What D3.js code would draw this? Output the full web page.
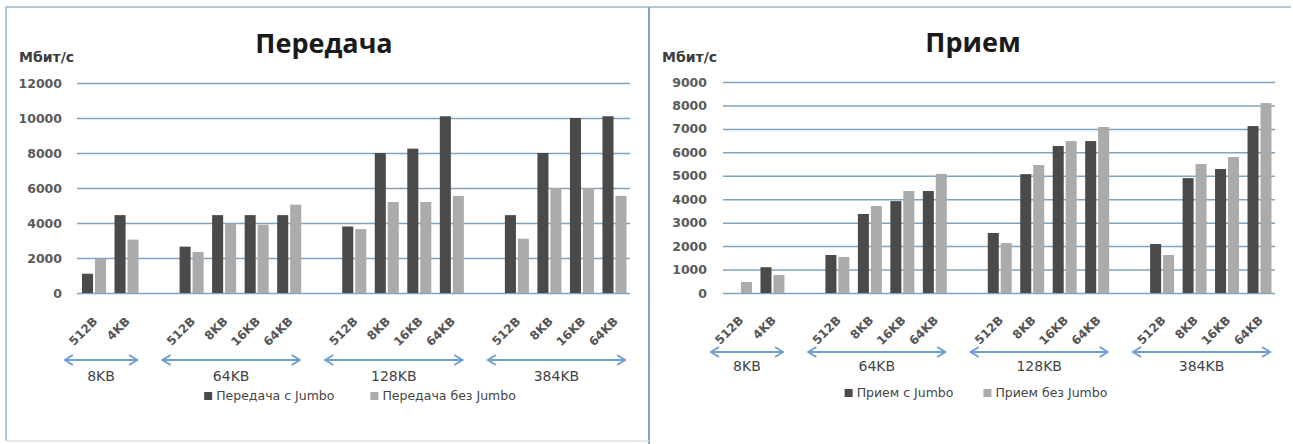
<!DOCTYPE html>
<html>
<head>
<meta charset="utf-8">
<script src="https://cdn.jsdelivr.net/npm/d3@7"></script>
<style>
body{margin:0;background:#fff}
svg{display:block}
</style>
</head>
<body>
<svg id="chart" width="1293" height="444"></svg>
<script>
// группы размеров окна и категории (размер пакета)
var groupNames = ["8KB", "64KB", "128KB", "384KB"];
var categories = ["512B", "4KB",
                  "512B", "8KB", "16KB", "64KB",
                  "512B", "8KB", "16KB", "64KB",
                  "512B", "8KB", "16KB", "64KB"];
var categoryGroup = ["8KB", "8KB",
                     "64KB", "64KB", "64KB", "64KB",
                     "128KB", "128KB", "128KB", "128KB",
                     "384KB", "384KB", "384KB", "384KB"];

// передача, Мбит/с
var txJumbo   = [1100, 4450, 2650, 4450, 4450, 4450, 3800, 8000, 8250, 10100, 4450, 8000, 10000, 10100];
var txNoJumbo = [1950, 3050, 2350, 3950, 3900, 5050, 3650, 5200, 5200, 5550, 3100, 6000, 6000, 5550];
// прием, Мбит/с
var rxJumbo   = [0, 1100, 1620, 3370, 3920, 4350, 2560, 5070, 6270, 6480, 2090, 4900, 5290, 7120];
var rxNoJumbo = [470, 770, 1540, 3710, 4350, 5080, 2130, 5460, 6480, 7080, 1620, 5500, 5800, 8100];

var txTicks = [0, 2000, 4000, 6000, 8000, 10000, 12000];
var rxTicks = [0, 1000, 2000, 3000, 4000, 5000, 6000, 7000, 8000, 9000];

var txLegend = ["Передача с Jumbo", "Передача без Jumbo"];
var rxLegend = ["Прием с Jumbo", "Прием без Jumbo"];

var colDark = '#4a4a4a';
var colLight = '#ababab';
var colGrid = '#80a4c0';
var colArrow = '#6f9fd2';

var svg = d3.select('#chart');

// рамки панелей
svg.append('line').attr('x1', 6).attr('x2', 1291).attr('y1', 7).attr('y2', 7)
    .attr('stroke', '#9cb6ca').attr('stroke-width', 1.5);
svg.append('line').attr('x1', 6).attr('x2', 6).attr('y1', 7).attr('y2', 441)
    .attr('stroke', '#9cb6ca').attr('stroke-width', 1.5);
svg.append('line').attr('x1', 649).attr('x2', 649).attr('y1', 7).attr('y2', 444)
    .attr('stroke', '#7fa6c4').attr('stroke-width', 2);
svg.append('line').attr('x1', 6).attr('x2', 649).attr('y1', 441).attr('y2', 441)
    .attr('stroke', '#e2e2e2').attr('stroke-width', 1.5);

// слоты по оси X: категории + пустой слот между группами
var slots = [];
groupNames.forEach(function(g, gi){
    if(gi > 0) slots.push('gap' + gi);
    categories.forEach(function(c, i){
        if(categoryGroup[i] == g) slots.push('c' + i);
    });
});

function drawChart(cfg){
    var g = svg.append('g');

    var x = d3.scaleBand().domain(slots).range([cfg.left, cfg.right]).padding(0);
    var xSub = d3.scaleBand().domain(['s1', 's2']).range([5, x.bandwidth() - 3.5]).paddingInner(0.15);
    var y = d3.scaleLinear().domain([0, cfg.max]).range([cfg.bottom, cfg.top]);

    // сетка и подписи оси Y
    var yAxis = d3.axisLeft(y).tickValues(cfg.ticks).tickFormat(d3.format('d'))
        .tickSize(-(cfg.right - cfg.left)).tickPadding(cfg.tickPad);
    g.append('g')
        .attr('transform', 'translate(' + cfg.left + ',0)')
        .call(yAxis)
        .call(function(a){
            a.select('.domain').remove();
            a.selectAll('line').attr('stroke', colGrid).attr('stroke-width', 1.5);
            a.selectAll('text')
                .attr('font-family', 'DejaVu Sans')
                .attr('font-weight', 'bold')
                .attr('font-size', 12.5)
                .attr('fill', '#5a5a5a');
        });

    // столбцы
    var idx = d3.range(categories.length);
    g.selectAll('rect.s1').data(idx).enter().append('rect')
        .attr('class', 's1')
        .attr('x', function(i){ return x('c' + i) + xSub('s1'); })
        .attr('width', xSub.bandwidth())
        .attr('y', function(i){ return y(cfg.s1[i]); })
        .attr('height', function(i){ return y(0) - y(cfg.s1[i]); })
        .attr('fill', colDark);
    g.selectAll('rect.s2').data(idx).enter().append('rect')
        .attr('class', 's2')
        .attr('x', function(i){ return x('c' + i) + xSub('s2'); })
        .attr('width', xSub.bandwidth())
        .attr('y', function(i){ return y(cfg.s2[i]); })
        .attr('height', function(i){ return y(0) - y(cfg.s2[i]); })
        .attr('fill', colLight);

    // подписи категорий под углом
    g.selectAll('text.cat').data(idx).enter().append('text')
        .attr('class', 'cat')
        .attr('transform', function(i){
            return 'translate(' + (x('c' + i) + x.bandwidth() / 2 + 5) + ',' + (cfg.bottom + cfg.labelDy) + ') rotate(-45)';
        })
        .attr('text-anchor', 'end')
        .attr('font-family', 'DejaVu Sans')
        .attr('font-weight', 'bold')
        .attr('font-size', 12)
        .attr('fill', '#555')
        .text(function(i){ return categories[i]; });

    // стрелки групп
    groupNames.forEach(function(gn){
        var members = idx.filter(function(i){ return categoryGroup[i] == gn; });
        var x0 = x('c' + members[0]) - 12;
        var x1 = x('c' + members[members.length - 1]) + x.bandwidth() - 5;
        var ay = cfg.arrowY;
        g.append('path')
            .attr('d', 'M' + x0 + ',' + ay + 'L' + x1 + ',' + ay +
                  'M' + (x0 + 8) + ',' + (ay - 5) + 'L' + x0 + ',' + ay + 'L' + (x0 + 8) + ',' + (ay + 5) +
                  'M' + (x1 - 8) + ',' + (ay - 5) + 'L' + x1 + ',' + ay + 'L' + (x1 - 8) + ',' + (ay + 5))
            .attr('fill', 'none')
            .attr('stroke', colArrow)
            .attr('stroke-width', 2);
        g.append('text')
            .attr('x', (x0 + x1) / 2)
            .attr('y', cfg.groupY)
            .attr('text-anchor', 'middle')
            .attr('font-family', 'DejaVu Sans')
            .attr('font-size', 14)
            .attr('fill', '#444')
            .text(gn);
    });

    // заголовок и единицы
    g.append('text')
        .attr('x', cfg.titleX).attr('y', cfg.titleY)
        .attr('text-anchor', 'middle')
        .attr('font-family', 'Open Sans')
        .attr('font-weight', 'bold')
        .attr('font-size', 27)
        .attr('fill', '#1a1a1a')
        .text(cfg.title);
    g.append('text')
        .attr('x', cfg.unitX).attr('y', 62)
        .attr('font-family', 'DejaVu Sans')
        .attr('font-weight', 'bold')
        .attr('font-size', 14)
        .attr('fill', '#3c3c3c')
        .text('Мбит/с');

    // легенда
    var leg = g.append('g');
    var cols = [colDark, colLight];
    var pos = 0;
    cfg.legend.forEach(function(name, k){
        var item = leg.append('g').attr('transform', 'translate(' + pos + ',0)');
        item.append('rect').attr('x', 0).attr('y', -8).attr('width', 8).attr('height', 8).attr('fill', cols[k]);
        var t = item.append('text')
            .attr('x', 12).attr('y', 0)
            .attr('font-family', 'DejaVu Sans')
            .attr('font-size', 12.5)
            .attr('fill', '#444')
            .text(name);
        pos += 12 + t.node().getComputedTextLength() + cfg.legendGap;
    });
    var legW = pos - cfg.legendGap;
    leg.attr('transform', 'translate(' + (cfg.legendCx - legW / 2) + ',' + cfg.legendY + ')');
}

drawChart({
    left: 77, right: 630, top: 83, bottom: 293, max: 12000, ticks: txTicks, tickPad: 15,
    s1: txJumbo, s2: txNoJumbo,
    title: 'Передача', titleX: 324, titleY: 53, unitX: 19,
    labelDy: 29, arrowY: 360, groupY: 381,
    legend: txLegend, legendCx: 360, legendY: 400, legendGap: 36
});

drawChart({
    left: 723, right: 1275, top: 82, bottom: 293, max: 9000, ticks: rxTicks, tickPad: 16,
    s1: rxJumbo, s2: rxNoJumbo,
    title: 'Прием', titleX: 973, titleY: 52, unitX: 662,
    labelDy: 28, arrowY: 352, groupY: 371,
    legend: rxLegend, legendCx: 976, legendY: 397, legendGap: 30
});
</script>
</body>
</html>
